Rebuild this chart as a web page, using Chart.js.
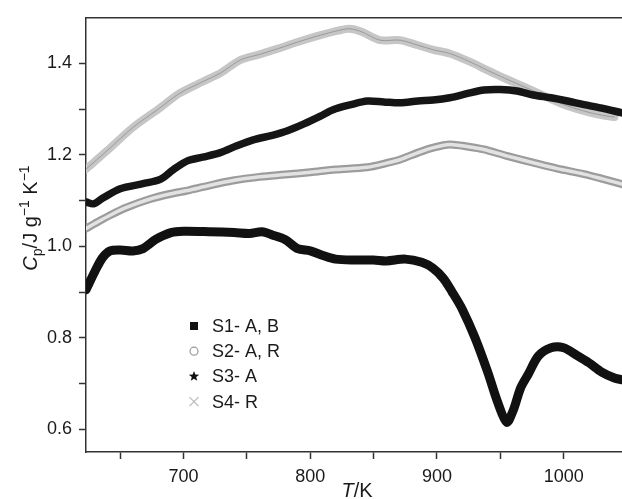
<!DOCTYPE html>
<html>
<head>
<meta charset="utf-8">
<script src="https://cdn.jsdelivr.net/npm/chart.js@4.4.1/dist/chart.umd.min.js"></script>
<style>
  body { margin: 0; background: #fff; }
  canvas { display: block; }
</style>
</head>
<body>
<canvas id="cpChart" width="622" height="499"></canvas>
<script>
// data (T in K, Cp in J g-1 K-1)
const tS1 = [623, 630, 636, 642, 650, 660, 668, 678, 690, 700, 720, 740, 752, 762, 770, 780, 790, 800, 810, 820, 835, 850, 860, 875, 888, 897, 905, 912, 920, 930, 940, 948, 955, 960, 966, 972, 980, 990, 1000, 1010, 1020, 1030, 1040, 1046];
const cpS1 = [0.905, 0.945, 0.975, 0.99, 0.992, 0.99, 0.995, 1.015, 1.03, 1.033, 1.032, 1.03, 1.028, 1.032, 1.025, 1.015, 0.995, 0.99, 0.98, 0.972, 0.97, 0.97, 0.968, 0.972, 0.965, 0.952, 0.93, 0.9, 0.862, 0.8, 0.725, 0.658, 0.615, 0.64, 0.69, 0.72, 0.76, 0.778, 0.778, 0.762, 0.745, 0.725, 0.712, 0.708];

const tS2 = [623, 630, 642, 655, 673, 690, 703, 720, 739, 760, 780, 800, 820, 845, 860, 871, 885, 897, 910, 925, 937, 955, 976, 995, 1016, 1030, 1046];
const cpS2 = [1.039, 1.05, 1.068, 1.085, 1.103, 1.115, 1.122, 1.133, 1.144, 1.152, 1.157, 1.162, 1.168, 1.173, 1.182, 1.19, 1.205, 1.216, 1.223, 1.218, 1.212, 1.198, 1.183, 1.17, 1.158, 1.148, 1.136];

const tS3 = [623, 629, 636, 650, 668, 682, 692, 703, 715, 729, 742, 755, 770, 782, 795, 808, 818, 832, 845, 858, 871, 885, 897, 910, 925, 937, 950, 963, 976, 990, 1003, 1016, 1029, 1046];
const cpS3 = [1.097, 1.093, 1.105, 1.126, 1.137, 1.147, 1.168, 1.187, 1.195, 1.205, 1.22, 1.233, 1.243, 1.253, 1.268, 1.285, 1.299, 1.31, 1.318, 1.316, 1.314, 1.318, 1.32, 1.325, 1.335, 1.342, 1.343, 1.34, 1.331, 1.325, 1.318, 1.31, 1.303, 1.292];

const tS4 = [623, 640, 660, 680, 697, 715, 729, 745, 760, 775, 790, 808, 822, 831, 840, 855, 871, 885, 897, 910, 925, 940, 950, 963, 976, 990, 1003, 1020, 1034, 1040];
const cpS4 = [1.169, 1.21, 1.26, 1.3, 1.335, 1.36, 1.379, 1.408, 1.42, 1.433, 1.447, 1.462, 1.472, 1.476, 1.47, 1.451, 1.451, 1.44, 1.43, 1.422, 1.405, 1.385, 1.372, 1.356, 1.34, 1.322, 1.307, 1.293, 1.285, 1.283];

const seriesNames = ['S1- A, B', 'S2- A, R', 'S3- A', 'S4- R'];
const xTicks = [650, 700, 750, 800, 850, 900, 950, 1000];
const yTicks = [0.6, 0.7, 0.8, 0.9, 1.0, 1.1, 1.2, 1.3, 1.4];

const FONT = '"Liberation Sans", Arial, sans-serif';

function pts(t, cp) {
  return t.map((v, i) => ({ x: v, y: cp[i] }));
}

function line(data, color, width) {
  return {
    data: data,
    borderColor: color,
    borderWidth: width,
    pointRadius: 0,
    tension: 0.3,
    borderJoinStyle: 'round',
    borderCapStyle: 'round',
    showLine: true
  };
}

// first dataset ends up on top
const datasets = [
  line(pts(tS1, cpS1), '#111', 9),
  line(pts(tS3, cpS3), '#151515', 7.5),
  line(pts(tS2, cpS2), '#e2e2e2', 3.5),
  line(pts(tS2, cpS2), '#9c9c9c', 8),
  line(pts(tS4, cpS4), '#9a9a9a', 1),
  line(pts(tS4, cpS4), '#c6c6c6', 8)
];

// titles, top frame line and the inset legend
const extras = {
  id: 'extras',
  afterDraw(chart) {
    const ctx = chart.ctx;
    const a = chart.chartArea;
    ctx.save();
    ctx.strokeStyle = '#333';
    ctx.lineWidth = 1.5;
    ctx.beginPath();
    ctx.moveTo(a.left, a.top);
    ctx.lineTo(a.right, a.top);
    ctx.stroke();

    ctx.fillStyle = '#1a1a1a';
    ctx.textBaseline = 'alphabetic';

    // y title, rotated
    const big = '20px ' + FONT, small = '14px ' + FONT;
    const parts = [
      { s: 'C', f: 'italic ' + big, dy: 0 },
      { s: 'p', f: small, dy: 5 },
      { s: '/J g', f: big, dy: 0 },
      { s: '\u22121', f: small, dy: -8 },
      { s: ' K', f: big, dy: 0 },
      { s: '\u22121', f: small, dy: -8 }
    ];
    let total = 0;
    parts.forEach(p => { ctx.font = p.f; p.w = ctx.measureText(p.s).width; total += p.w; });
    ctx.save();
    ctx.translate(37, 218);
    ctx.rotate(-Math.PI / 2);
    let x = -total / 2;
    parts.forEach(p => { ctx.font = p.f; ctx.fillText(p.s, x, p.dy); x += p.w; });
    ctx.restore();

    // x title
    ctx.font = 'italic ' + big;
    const wT = ctx.measureText('T').width;
    ctx.font = big;
    const wK = ctx.measureText('/K').width;
    let tx = 357 - (wT + wK) / 2;
    ctx.font = 'italic ' + big;
    ctx.fillText('T', tx, 497);
    ctx.font = big;
    ctx.fillText('/K', tx + wT, 497);

    // legend
    const lx = 194, ly = 326, gap = 25.2;
    ctx.font = '18px ' + FONT;
    ctx.textBaseline = 'middle';
    seriesNames.forEach((name, i) => {
      const y = ly + i * gap;
      ctx.fillStyle = '#1a1a1a';
      ctx.fillText(name, 212, y + 1);
      if (i === 0) {
        ctx.fillStyle = '#111';
        ctx.fillRect(lx - 4, y - 4, 8, 8);
      } else if (i === 1) {
        ctx.strokeStyle = '#999';
        ctx.lineWidth = 1.2;
        ctx.beginPath();
        ctx.arc(lx, y, 4, 0, Math.PI * 2);
        ctx.stroke();
      } else if (i === 2) {
        ctx.fillStyle = '#111';
        ctx.beginPath();
        for (let k = 0; k < 10; k++) {
          const r = k % 2 === 0 ? 5.5 : 2.3;
          const ang = -Math.PI / 2 + k * Math.PI / 5;
          const px = lx + r * Math.cos(ang), py = y + r * Math.sin(ang);
          if (k === 0) ctx.moveTo(px, py); else ctx.lineTo(px, py);
        }
        ctx.closePath();
        ctx.fill();
      } else {
        ctx.strokeStyle = '#bbb';
        ctx.lineWidth = 1.3;
        ctx.beginPath();
        ctx.moveTo(lx - 4.5, y - 4.5); ctx.lineTo(lx + 4.5, y + 4.5);
        ctx.moveTo(lx + 4.5, y - 4.5); ctx.lineTo(lx - 4.5, y + 4.5);
        ctx.stroke();
      }
    });
    ctx.restore();
  }
};

const config = {
  type: 'scatter',
  data: { datasets },
  options: {
    responsive: false,
    animation: false,
    layout: { padding: { top: 15, right: 0, left: 0, bottom: 0 } },
    plugins: { legend: { display: false }, tooltip: { enabled: false } },
    scales: {
      x: {
        type: 'linear',
        min: 623,
        max: 1046,
        afterBuildTicks: s => { s.ticks = xTicks.map(v => ({ value: v })); },
        afterFit: s => { s.height = 47; },
        grid: { display: true, drawOnChartArea: false, tickLength: 7, color: '#333', tickWidth: 1.5 },
        border: { color: '#333', width: 1.5 },
        ticks: {
          autoSkip: false,
          maxRotation: 0,
          padding: 7,
          color: '#1a1a1a',
          font: { family: FONT, size: 18 },
          callback: v => (v % 100 === 0 ? String(v) : '')
        }
      },
      y: {
        type: 'linear',
        min: 0.55,
        max: 1.5,
        afterBuildTicks: s => { s.ticks = yTicks.map(v => ({ value: v })); },
        afterFit: s => { s.width = 86; },
        grid: { display: true, drawOnChartArea: false, tickLength: 7, color: '#333', tickWidth: 1.5 },
        border: { color: '#333', width: 1.5 },
        ticks: {
          autoSkip: false,
          padding: 7,
          color: '#1a1a1a',
          font: { family: FONT, size: 18 },
          callback: v => (Math.round(v * 10) % 2 === 0 ? v.toFixed(1) : '')
        }
      }
    }
  },
  plugins: [extras]
};

const cpChart = new Chart(document.getElementById('cpChart'), config);
</script>
</body>
</html>
